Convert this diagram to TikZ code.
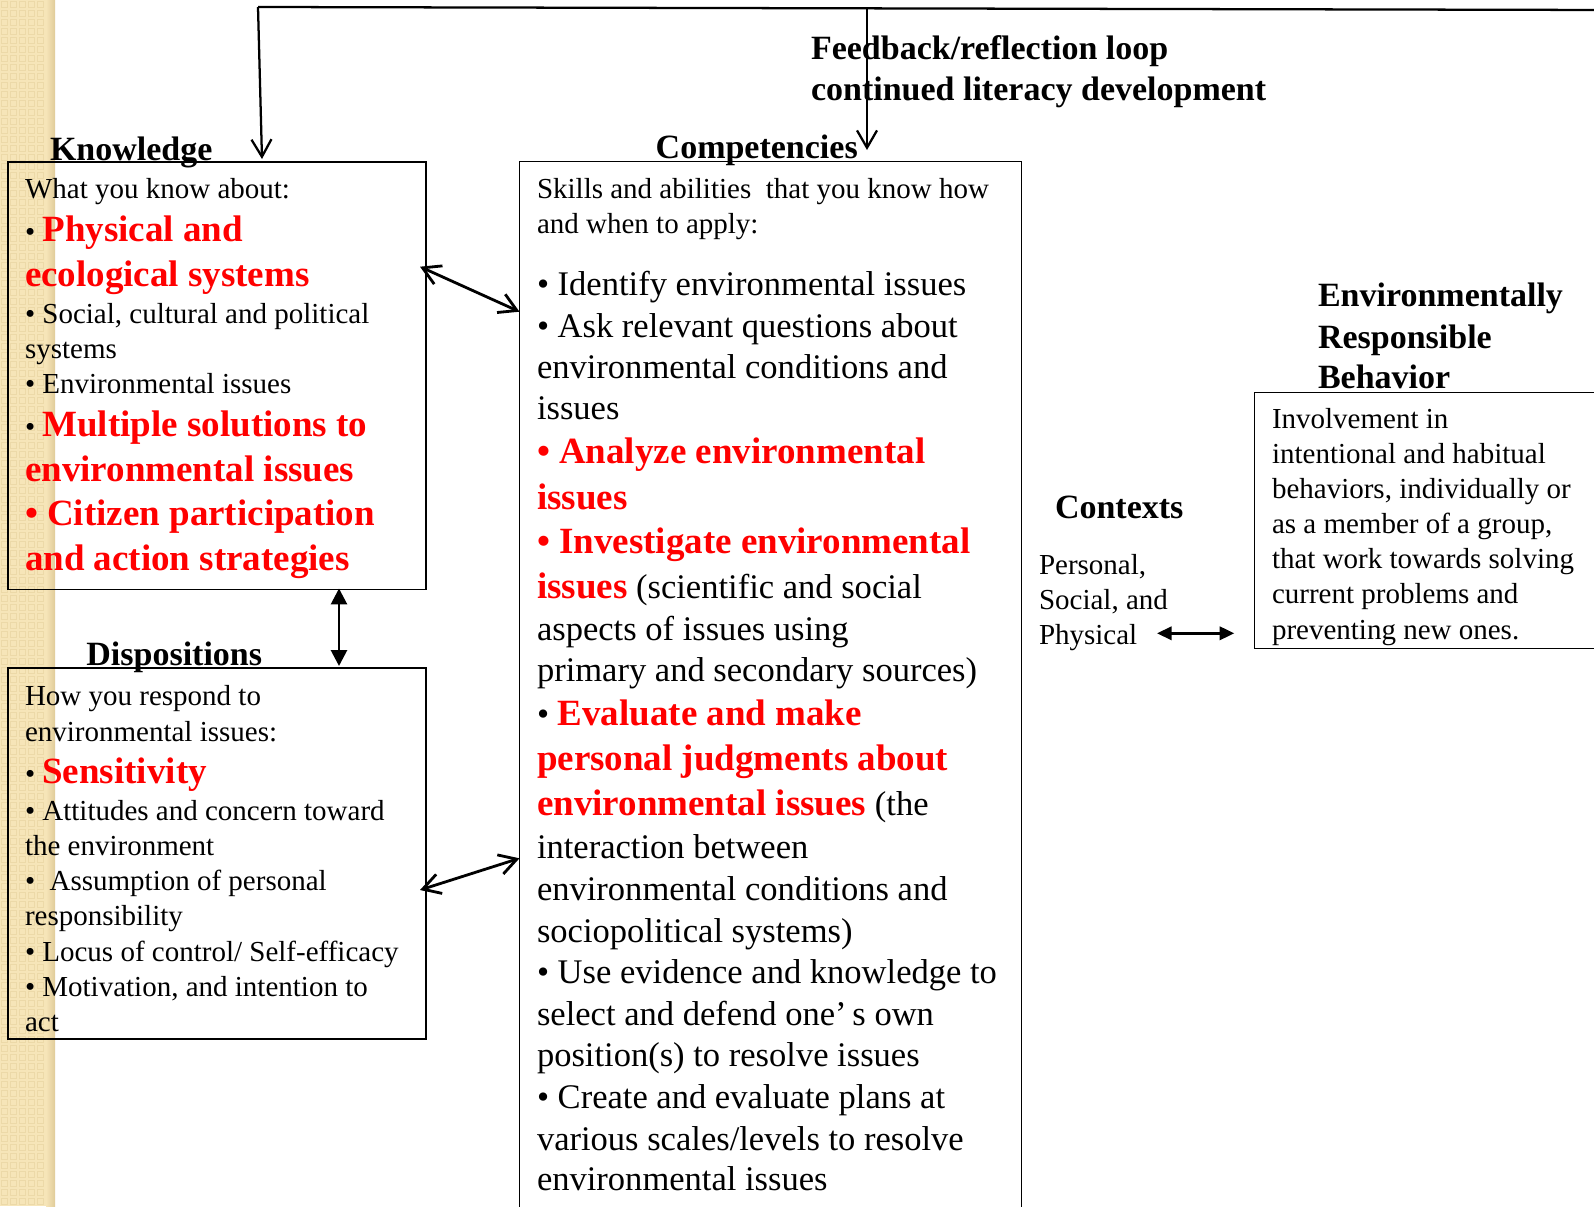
\documentclass[tikz,border=0pt]{standalone}
\usepackage{fontspec}
\setmainfont{Liberation Serif}
\usetikzlibrary{arrows.meta}

\definecolor{strip}{RGB}{246,229,184}
\definecolor{stripline}{RGB}{236,217,168}
\definecolor{stripedge}{RGB}{224,203,153}
\definecolor{hot}{RGB}{255,0,0}

% type sizes
\newcommand{\fsmall}{\fontsize{21.75pt}{26pt}\selectfont}
\newcommand{\fmid}{\fontsize{25.9pt}{31pt}\selectfont}
\newcommand{\fred}{\fontsize{27.75pt}{33pt}\selectfont\bfseries\color{hot}}
\newcommand{\fhead}{\fontsize{25.5pt}{31pt}\selectfont\bfseries}

\begin{document}
\begin{tikzpicture}[x=0.75pt,y=-0.75pt,
  txt/.style={anchor=base west,inner sep=0pt,outer sep=0pt},
  panel/.style={draw=black,line width=1.1pt,anchor=north west,inner sep=0pt,outer sep=0pt},
  loopline/.style={line width=1.7pt},
  openarrow/.style={line width=1.7pt,-{Straight Barb[length=13pt,width=15pt]}},
  twoway/.style={line width=2.1pt,{Straight Barb[length=13pt,width=15pt]}-{Straight Barb[length=13pt,width=15pt]}},
  solidtwoway/.style={line width=2.1pt,{Triangle[length=12pt,width=12pt]}-{Triangle[length=12pt,width=12pt]}},
  ctxarrow/.style={line width=2pt,{Triangle[length=11pt,width=10pt]}-{Triangle[length=11pt,width=10pt]}},
]
\useasboundingbox (0,0) rectangle (1594,1206);
\clip (0,0) rectangle (1594,1206);

% decorative strip on the left
\fill[strip] (0,0) rectangle (55,1206);
\foreach \r in {0,...,134}
  \foreach \c in {0,...,5}
    \draw[stripline,line width=0.5pt] (\c*9+1.5,\r*9+1.5) rectangle ++(6,6);
\shade[left color=strip,right color=stripedge] (46,0) rectangle (55,1206);

% panels
\node[panel,minimum width=313.5pt,minimum height=320.6pt] (know) at (8,162) {};
\node[panel,minimum width=313.5pt,minimum height=278.25pt] (disp) at (8,668) {};
\node[panel,minimum width=376.5pt,minimum height=790pt] (comp) at (519.5,161.7) {};
\node[panel,minimum width=270pt,minimum height=192pt] (erb) at (1254.3,392.3) {};

% feedback loop
\coordinate (loopL) at (258,7);
\coordinate (loopR) at (1610,10);
\coordinate (loopC) at (867,8.4);
\draw[loopline] (loopL) -- (loopR);
\draw[openarrow] (loopL) -- ([shift={(254,-3)}]know.north west);
\draw[openarrow] (loopC) -- ([shift={(347.5,-11.7)}]comp.north west);
\node[txt] (fb1) at (811,60) {\fhead Feedback/reflection loop};
\node[txt] (fb2) at (811,100) {\fhead continued literacy development};

% knowledge
\node[txt] (kh) at (50,160) {\fhead Knowledge};
\node[txt] (k1) at (25,198) {\fsmall What you know about:};
\node[txt] (k2) at (25,241.5) {\fsmall •\ {\fred Physical and}};
\node[txt] (k3) at (25,286) {\fred ecological systems};
\node[txt] (k4) at (25,323.5) {\fsmall • Social, cultural and political};
\node[txt] (k5) at (25,358.5) {\fsmall systems};
\node[txt] (k6) at (25,393.5) {\fsmall • Environmental issues};
\node[txt] (k7) at (25,436.7) {\fsmall •\ {\fred Multiple solutions to}};
\node[txt] (k8) at (25,481.7) {\fred environmental issues};
\node[txt] (k9) at (25,525.5) {\fred • Citizen participation};
\node[txt] (k10) at (25,570) {\fred and action strategies};

% dispositions
\node[txt] (dh) at (86.4,665) {\fhead Dispositions};
\node[txt] (d1) at (25,705.7) {\fsmall How you respond to};
\node[txt] (d2) at (25,741) {\fsmall environmental issues:};
\node[txt] (d3) at (25,783.3) {\fsmall •\ {\fred Sensitivity}};
\node[txt] (d4) at (25,820) {\fsmall • Attitudes and concern toward};
\node[txt] (d5) at (25,855.5) {\fsmall the environment};
\node[txt] (d6) at (25,890.3) {\fsmall •\ \ Assumption of personal};
\node[txt] (d7) at (25,925.5) {\fsmall responsibility};
\node[txt] (d8) at (25,961) {\fsmall • Locus of control/ Self-efficacy};
\node[txt] (d9) at (25,996.2) {\fsmall • Motivation, and intention to};
\node[txt] (d10) at (25,1031.5) {\fsmall act};

% competencies
\node[txt] (ch) at (655.7,158) {\fhead Competencies};
\node[txt] (c1) at (537,198.4) {\fsmall Skills and abilities\ \ that you know how};
\node[txt] (c2) at (537,233) {\fsmall and when to apply:};
\node[txt] (c3) at (537,295.6) {\fmid • Identify environmental issues};
\node[txt] (c4) at (537,337) {\fmid • Ask relevant questions about};
\node[txt] (c5) at (537,378.4) {\fmid environmental conditions and};
\node[txt] (c6) at (537,419.8) {\fmid issues};
\node[txt] (c7) at (537,463.3) {\fred • Analyze environmental};
\node[txt] (c8) at (537,509.3) {\fred issues};
\node[txt] (c9) at (537,553.3) {\fred • Investigate environmental};
\node[txt] (c10) at (537,598.3) {{\fred issues}\fmid\ (scientific and social};
\node[txt] (c11) at (537,640) {\fmid aspects of issues using};
\node[txt] (c12) at (537,681.7) {\fmid primary and secondary sources)};
\node[txt] (c13) at (537,725) {\fmid •\ {\fred Evaluate and make}};
\node[txt] (c14) at (537,770) {\fred personal judgments about};
\node[txt] (c15) at (537,815.5) {{\fred environmental issues}\fmid\ (the};
\node[txt] (c16) at (537,858.5) {\fmid interaction between};
\node[txt] (c17) at (537,900.5) {\fmid environmental conditions and};
\node[txt] (c18) at (537,942) {\fmid sociopolitical systems)};
\node[txt] (c19) at (537,983.3) {\fmid • Use evidence and knowledge to};
\node[txt] (c20) at (537,1025) {\fmid select and defend one’\,s own};
\node[txt] (c21) at (537,1066.7) {\fmid position(s) to resolve issues};
\node[txt] (c22) at (537,1108.3) {\fmid • Create and evaluate plans at};
\node[txt] (c23) at (537,1150) {\fmid various scales/levels to resolve};
\node[txt] (c24) at (537,1190) {\fmid environmental issues};

% contexts
\node[txt] (xh) at (1055,518) {\fhead Contexts};
\node[txt] (x1) at (1039,574.5) {\fsmall Personal,};
\node[txt] (x2) at (1039,609.5) {\fsmall Social, and};
\node[txt] (x3) at (1039,644) {\fsmall Physical};

% environmentally responsible behavior
\node[txt] (eh1) at (1318,306.7) {\fhead Environmentally};
\node[txt] (eh2) at (1318,348.3) {\fhead Responsible};
\node[txt] (eh3) at (1318,388.3) {\fhead Behavior};
\node[txt] (e1) at (1272,428.3) {\fsmall Involvement in};
\node[txt] (e2) at (1272,463.4) {\fsmall intentional and habitual};
\node[txt] (e3) at (1272,498.5) {\fsmall behaviors, individually or};
\node[txt] (e4) at (1272,533.6) {\fsmall as a member of a group,};
\node[txt] (e5) at (1272,568.7) {\fsmall that work towards solving};
\node[txt] (e6) at (1272,603.8) {\fsmall current problems and};
\node[txt] (e7) at (1272,639) {\fsmall preventing new ones.};

% links between panels
\draw[twoway] ([shift={(-6,104.7)}]know.north east) -- ([shift={(0,150)}]comp.north west);
\draw[twoway] ([shift={(-6,222)}]disp.north east) -- ([shift={(0,696.6)}]comp.north west);
\draw[solidtwoway] ([shift={(331,-1)}]know.south west) -- ([shift={(331,-2)}]disp.north west);
\coordinate (ctxL) at (1157,633.3);
\draw[ctxarrow] (ctxL) -- ([shift={(-20,-15)}]erb.south west);
\end{tikzpicture}
\end{document}
